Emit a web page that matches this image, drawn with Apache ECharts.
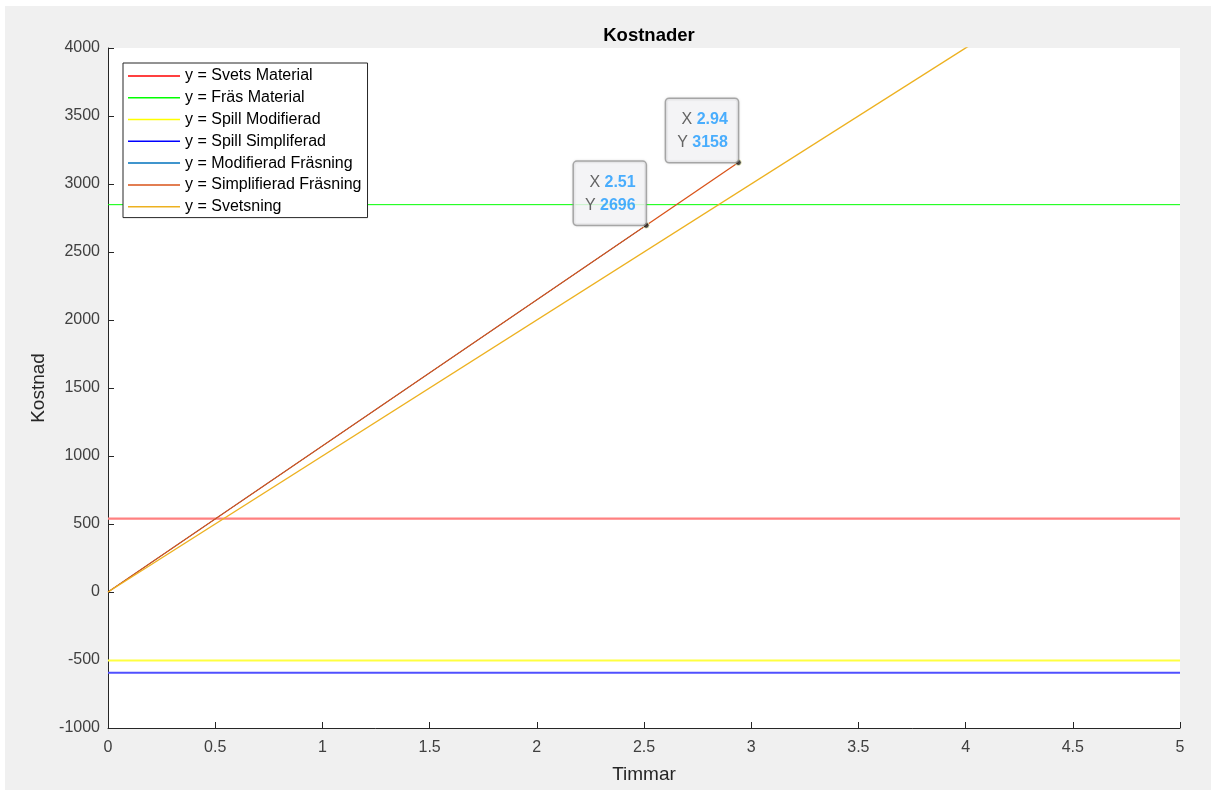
<!DOCTYPE html>
<html>
<head>
<meta charset="utf-8">
<script src="https://cdn.jsdelivr.net/npm/echarts@6/dist/echarts.min.js"></script>
<style>
html,body{margin:0;padding:0;background:#fff;}
#c{width:1217px;height:796px;}
</style>
</head>
<body>
<div id="c"></div>
<script>
// ---- data ----
const seriesNames = ['y = Svets Material','y = Fräs Material','y = Spill Modifierad','y = Spill Simpliferad','y = Modifierad Fräsning','y = Simplifierad Fräsning','y = Svetsning'];
const svetsMaterial = [[0, 539], [5, 539]];
const frasMaterial = [[0, 2848], [5, 2848]];
const spillModifierad = [[0, -503], [5, -503]];
const spillSimpliferad = [[0, -593], [5, -593]];
const modifieradFrasning = [[0, 0], [2.51, 2696]];
const simplifieradFrasning = [[0, 0], [2.94, 3158]];
const svetsning = [[0, 0], [5, 5000]];
const dataTips = [[2.51, 2696], [2.94, 3158]];
const xTicks = ['0','0.5','1','1.5','2','2.5','3','3.5','4','4.5','5'];
const yTicks = ['-1000','-500','0','500','1000','1500','2000','2500','3000','3500','4000'];

const colors = ['#FF0000','#00FF00','#FFFF00','#0000FF','#0072BD','#D95319','#EDB120'];
const plotColors = ['#FF8080','#00FF00','#FFFF40','#5050FF','#0072BD','#D95319','#EDB120'];
const widths = [2.2,1,2,2,1,1.3,1.4];
const datas = [svetsMaterial, frasMaterial, spillModifierad, spillSimpliferad, modifieradFrasning, simplifieradFrasning, svetsning];

const chart = echarts.init(document.getElementById('c'), null, {renderer:'canvas'});
const font = 'Arial, "Liberation Sans", Helvetica, sans-serif';

const series = datas.map((d, i) => ({
  name: seriesNames[i],
  type: 'line',
  data: d,
  showSymbol: false,
  symbol: 'none',
  silent: true,
  itemStyle: {color: colors[i]},
  lineStyle: {color: plotColors[i], width: widths[i]},
  z: 2 + i,
  clip: true,
  animation: false
}));

series.push({
  type: 'scatter',
  data: dataTips,
  symbolSize: 6,
  itemStyle: {color: '#1a1a1a', borderColor: '#ffffcc', borderWidth: 1},
  z: 20,
  animation: false,
  label: {
    show: true,
    position: [3, 3],
    align: 'right',
    verticalAlign: 'bottom',
    formatter: p => '{k|X }{v|' + p.value[0].toFixed(2) + '}\n{k|Y }{v|' + p.value[1] + '}',
    backgroundColor: '#F7F7FA',
    borderColor: '#9A9A9A',
    borderWidth: 1.5,
    borderRadius: 3,
    padding: [9, 10, 8, 11],
    shadowColor: 'rgba(0,0,0,0.12)',
    shadowBlur: 3,
    rich: {
      k: {fontFamily: font, fontSize: 16, color: '#404040', lineHeight: 23},
      v: {fontFamily: font, fontSize: 16, fontWeight: 'bold', color: '#1E9BFF', lineHeight: 23}
    }
  }
});

const option = {
  backgroundColor: '#ffffff',
  animation: false,
  graphic: [{
    type: 'rect', z: -10, silent: true,
    shape: {x: 5, y: 6, width: 1206, height: 784},
    style: {fill: '#F0F0F0'}
  }, {
    type: 'rect', z: -9, silent: true,
    shape: {x: 108, y: 48, width: 1072, height: 680},
    style: {fill: '#FFFFFF'}
  }],
  title: {
    text: 'Kostnader',
    left: 644, top: 21, textAlign: 'center',
    textStyle: {fontFamily: font, fontSize: 18.5, fontWeight: 'bold', color: '#000'}
  },
  legend: {
    orient: 'vertical',
    left: 123, top: 63,
    data: seriesNames,
    icon: 'rect',
    itemWidth: 52, itemHeight: 1.5,
    itemGap: 0,
    padding: [2, 6, 0, 5],
    backgroundColor: '#FFFFFF',
    borderColor: '#262626',
    borderWidth: 1,
    selectedMode: false,
    textStyle: {fontFamily: font, fontSize: 16, color: '#000', lineHeight: 21.8}
  },
  grid: {left: 108, right: 37, top: 48, bottom: 68, containLabel: false},
  xAxis: {
    type: 'value', min: 0, max: 5, interval: 0.5,
    name: 'Timmar', nameLocation: 'middle', nameGap: 37,
    nameTextStyle: {fontFamily: font, fontSize: 19, color: '#262626'},
    axisLine: {show: true, onZero: false, lineStyle: {color: '#262626', width: 1}},
    axisTick: {show: true, inside: true, length: 6, lineStyle: {color: '#262626'}},
    axisLabel: {fontFamily: font, fontSize: 16, color: '#404040', margin: 12,
      formatter: (v) => { const i = Math.round(v / 0.5); return xTicks[i] !== undefined ? xTicks[i] : ''; }},
    splitLine: {show: false}
  },
  yAxis: {
    type: 'value', min: -1000, max: 4000, interval: 500,
    name: 'Kostnad', nameLocation: 'middle', nameGap: 58, nameRotate: 90,
    nameTextStyle: {fontFamily: font, fontSize: 19, color: '#262626'},
    axisLine: {show: true, onZero: false, lineStyle: {color: '#262626', width: 1}},
    axisTick: {show: true, inside: true, length: 6, lineStyle: {color: '#262626'}},
    axisLabel: {fontFamily: font, fontSize: 16, color: '#404040', margin: 8,
      formatter: (v) => { const i = Math.round((v + 1000) / 500); return yTicks[i] !== undefined ? yTicks[i] : ''; }},
    splitLine: {show: false}
  },
  series: series
};
chart.setOption(option);
</script>
</body>
</html>
